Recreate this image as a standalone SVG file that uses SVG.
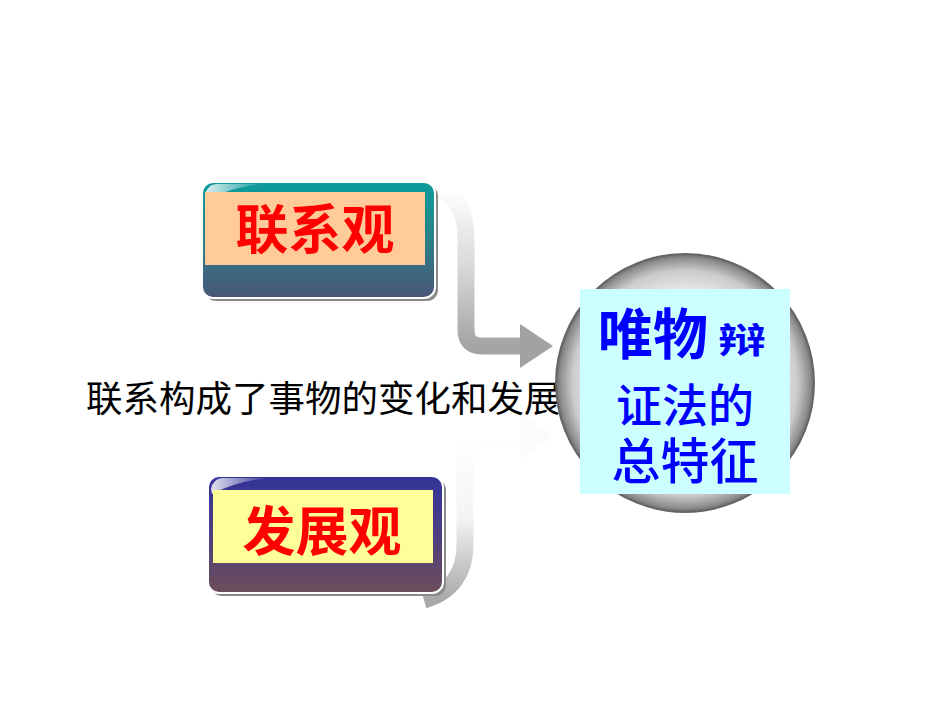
<svg xmlns="http://www.w3.org/2000/svg" width="950" height="713" viewBox="0 0 950 713">
<defs>
<style>
.cjk{font-family:"Noto Sans CJK SC","Noto Sans CJK TC",sans-serif;}
.title{font-weight:700;fill:#FF0000;text-anchor:middle;}
.blue{fill:#0000FF;}
.shadow{fill:#8a8a8a;}
</style>
<linearGradient id="g1" x1="0" y1="0" x2="0" y2="1">
<stop offset="0" stop-color="#0B9C9C"/>
<stop offset="0.5" stop-color="#2B8088"/>
<stop offset="1" stop-color="#4A5578"/>
</linearGradient>
<linearGradient id="g2" x1="0" y1="0" x2="0" y2="1">
<stop offset="0" stop-color="#333399"/>
<stop offset="0.5" stop-color="#4D3F80"/>
<stop offset="1" stop-color="#6E4E5A"/>
</linearGradient>
<linearGradient id="gloss" x1="0" y1="0" x2="1" y2="0">
<stop offset="0" stop-color="#ffffff" stop-opacity="0.85"/>
<stop offset="1" stop-color="#ffffff" stop-opacity="0"/>
</linearGradient>
<linearGradient id="arr1" x1="0" y1="0" x2="0" y2="1">
<stop offset="0" stop-color="#ffffff"/>
<stop offset="0.5" stop-color="#d8d8d8"/>
<stop offset="1" stop-color="#a4a4a4"/>
</linearGradient>
<linearGradient id="arr2" x1="0" y1="0" x2="0" y2="1">
<stop offset="0" stop-color="#ffffff"/>
<stop offset="0.5" stop-color="#f4f4f4"/>
<stop offset="1" stop-color="#a8a8a8"/>
</linearGradient>
<radialGradient id="sphere" cx="0.5" cy="0.5" r="0.5">
<stop offset="0" stop-color="#ffffff"/>
<stop offset="0.65" stop-color="#f2f2f2"/>
<stop offset="0.87" stop-color="#cccccc"/>
<stop offset="0.97" stop-color="#8c8c8c"/>
<stop offset="1" stop-color="#6a6a6a"/>
</radialGradient>
</defs>
<rect width="950" height="713" fill="#ffffff"/>

<g id="connectors">
<g id="arrow-top">
<path d="M440 190 C458 196 466 214 466 240 L466 330 Q466 346 482 346 L523 346" fill="none" stroke="url(#arr1)" stroke-width="17"/>
<polygon points="520,324 553,346 520,368" fill="#a2a2a2"/>
</g>
<g id="arrow-bottom">
<path d="M424 600 C452 592 465 572 465 545 L465 452 Q465 436 481 436 L523 436" fill="none" stroke="url(#arr2)" stroke-width="17"/>
<polygon points="520,414 553,436 520,458" fill="#fbfbfb"/>
</g>
</g>

<g id="node-lianxiguan">
<rect x="205" y="185" width="233" height="116" rx="11" class="shadow"/>
<rect x="202" y="182" width="233" height="116" rx="11" fill="url(#g1)" stroke="#ffffff" stroke-width="2"/>
<path d="M205 195 Q207 185 216 184 L265 184 Q235 186 206 200 Z" fill="url(#gloss)"/>
<rect x="205" y="192" width="220" height="73" fill="#FFCC99"/>
<text class="cjk title" x="315" y="249" font-size="53">联系观</text>
</g>

<g id="node-fazhanguan">
<rect x="211" y="479" width="235" height="117" rx="11" class="shadow"/>
<rect x="208" y="476" width="235" height="117" rx="11" fill="url(#g2)" stroke="#ffffff" stroke-width="2"/>
<path d="M211 489 Q213 479 222 478 L270 478 Q240 480 212 494 Z" fill="url(#gloss)"/>
<rect x="213" y="490" width="220" height="73" fill="#FFFF99"/>
<text class="cjk title" x="322" y="551" font-size="53">发展观</text>
</g>

<g id="label-text">
<text class="cjk" x="86" y="412" font-size="36.5" font-weight="400" fill="#000000">联系构成了事物的变化和发展</text>
</g>

<g id="node-center">
<circle cx="685" cy="383" r="129" fill="url(#sphere)" stroke="#666666" stroke-width="2"/>
<rect x="580" y="289" width="210" height="205" fill="#CCFFFF"/>
<text class="cjk blue" x="598" y="354" font-size="55" font-weight="700">唯物</text>
<text class="cjk blue" x="718" y="353" font-size="35" font-weight="700" textLength="48" lengthAdjust="spacingAndGlyphs">辩</text>
<text class="cjk blue" x="685" y="422" font-size="46" font-weight="500" text-anchor="middle">证法的</text>
<text class="cjk blue" x="685" y="479" font-size="49" font-weight="500" text-anchor="middle">总特征</text>
</g>
</svg>
